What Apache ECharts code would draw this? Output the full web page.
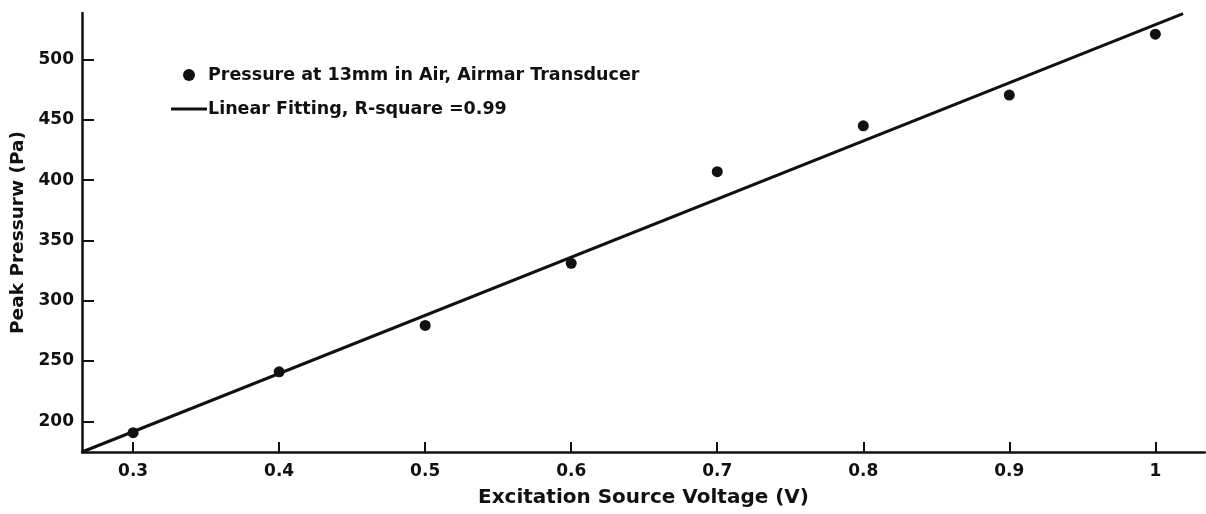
<!DOCTYPE html>
<html>
<head>
<meta charset="utf-8">
<script src="https://cdn.jsdelivr.net/npm/echarts@6/dist/echarts.min.js"></script>
<style>
  html, body { margin: 0; padding: 0; background: #fff; }
  #chart { width: 1206px; height: 514px; }
</style>
</head>
<body>
<div id="chart"></div>
<script>
// measured points
const voltage = [0.3, 0.4, 0.5, 0.6, 0.7, 0.8, 0.9, 1.0]
const pressure = [190.5, 241, 279.5, 331, 407, 445, 470.5, 521]
const fitX = [0.265, 1.019]
const fitY = [174.5, 538]
const xTicks = [0.3, 0.4, 0.5, 0.6, 0.7, 0.8, 0.9, 1]
const yTicks = [200, 250, 300, 350, 400, 450, 500]

const scatterName = 'Pressure at 13mm in Air, Airmar Transducer'
const fitName = 'Linear Fitting, R-square =0.99'
const ink = '#111'
const font = 'DejaVu Sans'

let chart = echarts.init(document.getElementById('chart'), null, { renderer: 'canvas' })
chart.setOption({
  animation: false,
  backgroundColor: '#fff',
  textStyle: { fontFamily: font },
  grid: { left: 82, right: 1, top: 13, bottom: 62, containLabel: false },
  legend: {
    orient: 'vertical',
    left: 166,
    top: 59,
    itemWidth: 36,
    itemHeight: 12,
    itemGap: 12,
    symbolKeepAspect: true,
    textStyle: { fontFamily: font, fontWeight: 'bold', fontSize: 17.5, color: ink, lineHeight: 22, padding: [0, 0, 0, -4] },
    data: [
      { name: scatterName, icon: 'circle' },
      { name: fitName, icon: 'path://M0,0 L36,0 L36,3 L0,3 Z' }
    ]
  },
  xAxis: {
    type: 'value',
    min: 0.265,
    max: 1.034,
    name: 'Excitation Source Voltage (V)',
    nameLocation: 'middle',
    nameGap: 36,
    nameTextStyle: { fontFamily: font, fontWeight: 'bold', fontSize: 20, color: ink },
    splitLine: { show: false },
    axisLine: { onZero: false, lineStyle: { color: ink, width: 2.5 } },
    axisTick: { inside: true, length: 10, customValues: xTicks, lineStyle: { color: ink, width: 2 } },
    axisLabel: {
      customValues: xTicks,
      margin: 11,
      fontFamily: font, fontWeight: 'bold', fontSize: 17, color: ink
    }
  },
  yAxis: {
    type: 'value',
    min: 174.5,
    max: 538.6,
    name: 'Peak Pressurw (Pa)',
    nameLocation: 'middle',
    nameGap: 52,
    nameTextStyle: { fontFamily: font, fontWeight: 'bold', fontSize: 18.5, color: ink },
    splitLine: { show: false },
    axisLine: { onZero: false, lineStyle: { color: ink, width: 2.5 } },
    axisTick: { inside: true, length: 12, customValues: yTicks, lineStyle: { color: ink, width: 2 } },
    axisLabel: {
      customValues: yTicks,
      margin: 8,
      fontFamily: font, fontWeight: 'bold', fontSize: 17, color: ink
    }
  },
  series: [
    {
      name: scatterName,
      type: 'scatter',
      symbol: 'circle',
      symbolSize: 11,
      itemStyle: { color: ink, opacity: 1 },
      data: voltage.map((v, i) => [v, pressure[i]]),
      z: 3
    },
    {
      name: fitName,
      type: 'line',
      showSymbol: false,
      symbol: 'none',
      lineStyle: { color: ink, width: 3 },
      itemStyle: { color: ink },
      data: fitX.map((v, i) => [v, fitY[i]]),
      z: 2
    }
  ]
})
</script>
</body>
</html>
